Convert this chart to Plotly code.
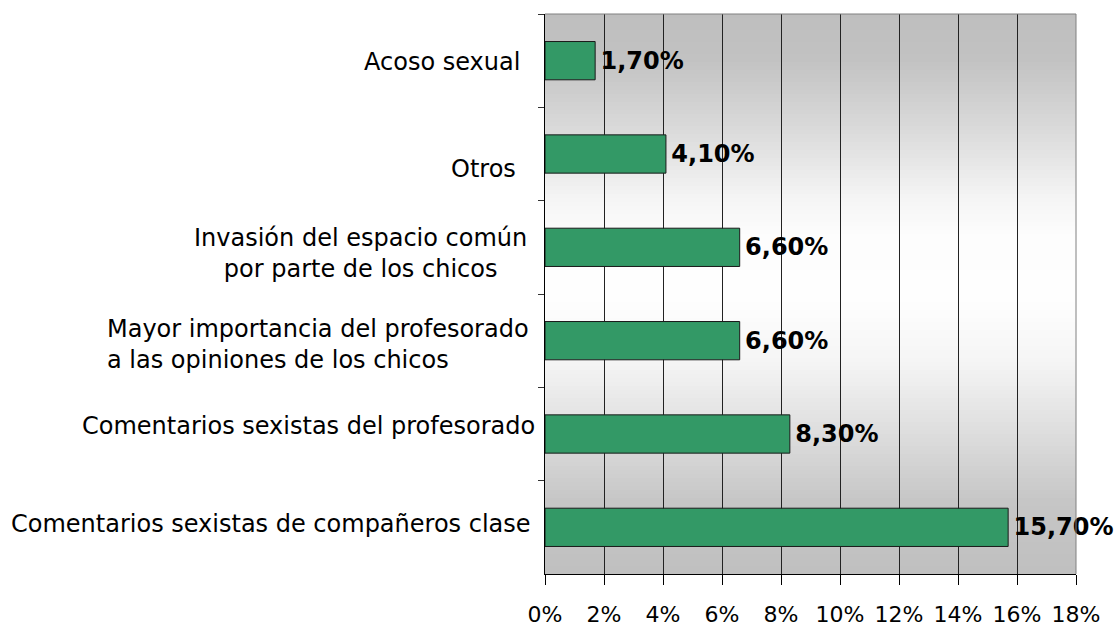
import plotly.graph_objects as go
import numpy as np

# ---- data ----
categories = [
    "Acoso sexual",
    "Otros",
    "Invasión del espacio común<br>por parte de los chicos",
    "Mayor importancia del profesorado<br>a las opiniones de los chicos",
    "Comentarios sexistas del profesorado",
    "Comentarios sexistas de compañeros clase",
]
values = [1.70, 4.10, 6.60, 6.60, 8.30, 15.70]
x_ticks = [0, 2, 4, 6, 8, 10, 12, 14, 16, 18]
x_tick_labels = ["0%", "2%", "4%", "6%", "8%", "10%", "12%", "14%", "16%", "18%"]

labels = ["\u200a" + f"{v:.2f}".replace(".", ",") + "%" for v in values]

# ---- style ----
FONT = "DejaVu Sans"
BAR_COLOR = "#339966"
label_align = ["center", "center", "center", "left", "center", "center"]
label_xshift = [-23, -27, -16, -14, -8, -12]
label_yshift = [-1, -15, -6, -4, 8, 3]

fig = go.Figure()
fig.add_trace(go.Bar(
    x=values,
    y=categories,
    orientation="h",
    marker=dict(color=BAR_COLOR, line=dict(color="#1a1a1a", width=1)),
    width=0.41,
    text=labels,
    textposition="outside",
    constraintext="none",
    cliponaxis=False,
    textfont=dict(family=FONT, size=24, color="black", weight="bold"),
    hoverinfo="skip",
))

# category labels as annotations (to control per-line alignment)
annotations = []
for cat, al, xs, ys in zip(categories, label_align, label_xshift, label_yshift):
    annotations.append(dict(
        x=0, xref="paper", y=cat, yref="y",
        text=cat, showarrow=False, xanchor="right", yanchor="middle",
        align=al, xshift=xs, yshift=ys,
        font=dict(family=FONT, size=24, color="black"),
    ))

# vertical gradient background (grey top/bottom, white band a bit above middle)
grad_pos = [0.0, 0.08, 0.225, 0.33, 0.40, 0.51, 0.62, 0.745, 0.87, 1.0]   # from top
grad_val = [190, 194, 222, 245, 253, 254, 245, 222, 198, 192]
shapes = []
N = 140
for i in range(N):
    tc = (i + 0.5) / N
    c = int(round(np.interp(tc, grad_pos, grad_val)))
    y_top = 1 - i / N
    y_bot = max(0.0, 1 - (i + 1.6) / N)
    shapes.append(dict(
        type="rect", xref="x domain", yref="y domain",
        x0=0, x1=1, y0=y_bot, y1=y_top,
        fillcolor=f"rgb({c},{c},{c})", line=dict(width=0), layer="below",
    ))
# grey top and right border
shapes.append(dict(type="line", xref="x domain", yref="y domain",
                   x0=0, x1=1, y0=1, y1=1, line=dict(color="#808080", width=1), layer="above"))
shapes.append(dict(type="line", xref="x domain", yref="y domain",
                   x0=1, x1=1, y0=0, y1=1, line=dict(color="#808080", width=1), layer="above"))

fig.update_layout(
    width=1114, height=628,
    margin=dict(l=545, r=38, t=14, b=54),
    paper_bgcolor="white",
    plot_bgcolor="rgba(0,0,0,0)",
    showlegend=False,
    bargap=0.59,
    shapes=shapes,
    annotations=annotations,
    font=dict(family=FONT, color="black"),
)
fig.update_xaxes(
    range=[0, 18],
    tickvals=x_ticks, ticktext=x_tick_labels,
    ticks="outside", ticklen=10, tickcolor="black", tickwidth=1,
    showgrid=True, gridcolor="#222222", gridwidth=1,
    showline=True, linecolor="black", linewidth=1,
    zeroline=False, automargin=False,
    tickfont=dict(family=FONT, size=22, color="black"),
    ticklabelstandoff=11,
)
fig.update_yaxes(
    autorange="reversed",
    showticklabels=False,
    ticks="outside", tickson="boundaries", ticklen=6, tickcolor="#333333",
    showline=True, linecolor="black", linewidth=1,
    showgrid=False, zeroline=False, automargin=False,
)

# remove the default page margin so the figure sits at the window's top-left corner
fig.write_html(
    "out.html",
    config={"displayModeBar": False},
    post_script="document.body.style.margin='0';document.body.style.overflow='hidden';",
)
